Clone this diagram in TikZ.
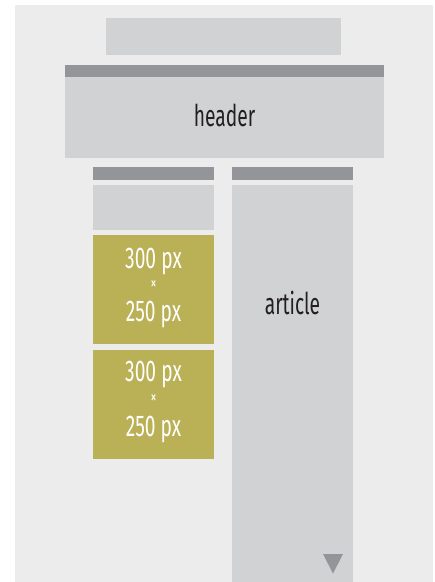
\documentclass[tikz,border=0pt]{standalone}
\usepackage{fontspec}
\setmainfont{Fira Sans}[FakeStretch=0.64]
\usetikzlibrary{positioning}
\definecolor{pagebg}{HTML}{ECECEC}
\definecolor{boxgrey}{HTML}{D1D2D4}
\definecolor{bargrey}{HTML}{939598}
\definecolor{adolive}{HTML}{BAB055}
\definecolor{inkdark}{HTML}{231F20}
\tikzset{
  bigtext/.style={font=\fontsize{22.5}{24}\selectfont,anchor=base,inner sep=0pt},
  timestext/.style={font=\fontsize{14}{15}\selectfont,inner sep=0pt}
}
\begin{document}
\begin{tikzpicture}[x=0.75pt,y=-0.75pt]
\useasboundingbox (0,0) rectangle (435,582);
\fill[pagebg] (15,5) rectangle (433,582);
\fill[boxgrey] (106,18) rectangle (341,55);
\fill[bargrey] (65,65) rectangle (384,77);
\fill[boxgrey] (65,77) rectangle (384,158);
\node[bigtext,text=inkdark] (header) at (224.5,126) {header};

% left column
\fill[bargrey] (93,167) rectangle (214,180);
\fill[boxgrey] (93,185) rectangle (214,230);
\fill[adolive] (93,235) rectangle (214,344);
\node[bigtext,text=white] (adone) at (153.5,268.3) {300 px};
\node[timestext,text=white] (adonex) at (153.5,284.5) {×};
\node[bigtext,text=white] (adoneb) at (153.5,321.7) {250 px};
\fill[adolive] (93,350) rectangle (214,459);
\node[bigtext,text=white] (adtwo) at (153.5,381.7) {300 px};
\node[timestext,text=white] (adtwox) at (153.5,399) {×};
\node[bigtext,text=white] (adtwob) at (153.5,436.7) {250 px};

% right column
\fill[bargrey] (232,167) rectangle (353,180);
\fill[boxgrey] (232,185) rectangle (353,582);
\node[bigtext,text=inkdark] (article) at (292.5,314) {article};
\fill[bargrey] (323,554) -- (343,554) -- (333,573.5) -- cycle;

\end{tikzpicture}
\end{document}
